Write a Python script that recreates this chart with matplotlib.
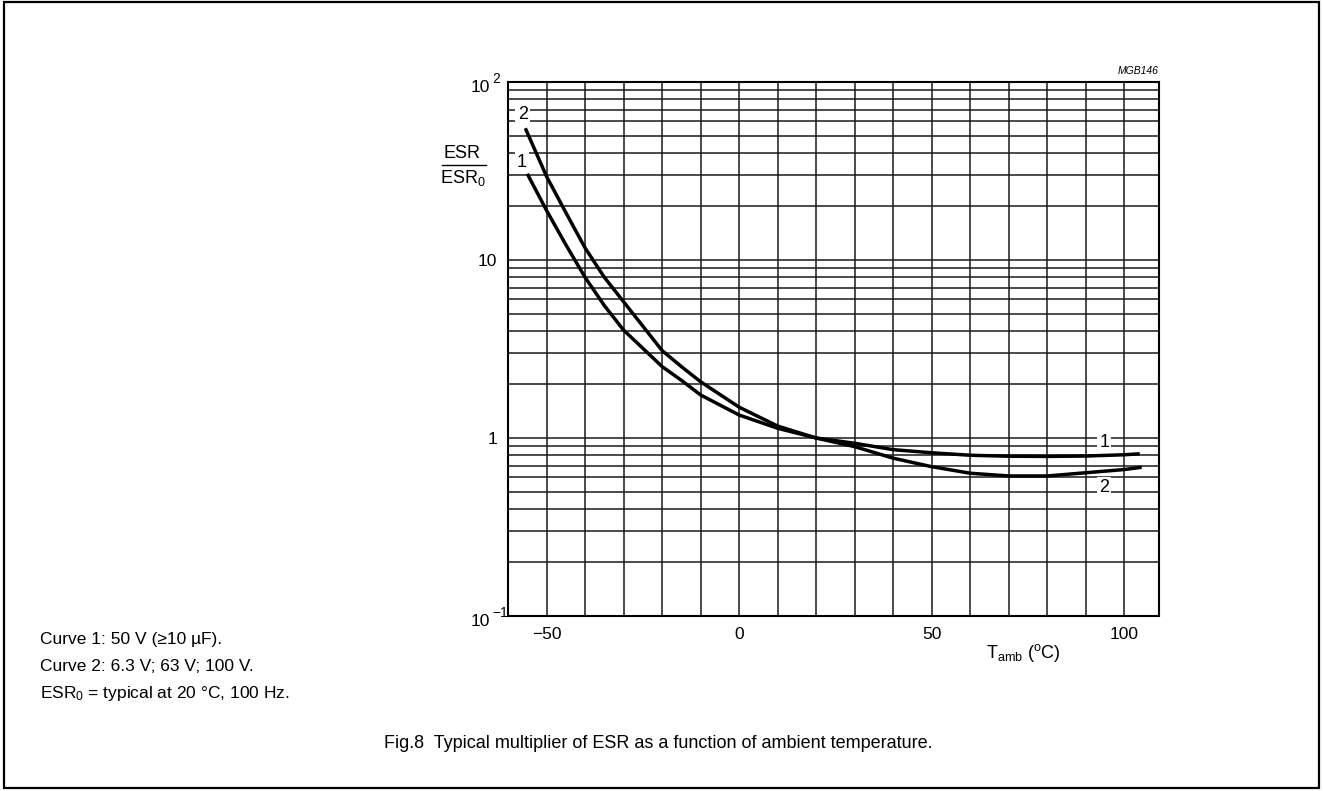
import matplotlib
matplotlib.use("Agg")
import matplotlib.pyplot as plt
from matplotlib.patches import Rectangle
from matplotlib.lines import Line2D

plt.rcParams["font.family"] = ["Liberation Sans", "DejaVu Sans"]
plt.rcParams["mathtext.fontset"] = "custom"
plt.rcParams["mathtext.rm"] = "Liberation Sans"
plt.rcParams["mathtext.it"] = "Liberation Sans:italic"
plt.rcParams["mathtext.bf"] = "Liberation Sans:bold"

# --- data ---
temp_1 = [-55, -50, -45, -40, -35, -30, -20, -15, -10, 0, 10, 20, 30, 40, 50, 60, 70, 80, 90, 100, 104]
esr_1 = [30.5, 19.0, 12.2, 8.0, 5.55, 4.04, 2.52, 2.11, 1.745, 1.346, 1.134, 1.0, 0.934, 0.86, 0.826,
         0.80, 0.79, 0.788, 0.792, 0.805, 0.815]

temp_2 = [-55.5, -50, -45, -40, -35, -30, -20, -15, -10, 0, 10, 20, 30, 40, 50, 60, 70, 80, 90, 100, 104.5]
esr_2 = [55.0, 29.5, 18.5, 11.7, 8.0, 5.83, 3.1, 2.52, 2.07, 1.49, 1.167, 1.0, 0.894, 0.77, 0.69,
         0.634, 0.612, 0.612, 0.638, 0.665, 0.685]

x_ticks = [-50, 0, 50, 100]
x_tick_labels = ["\u221250", "0", "50", "100"]
y_ticks = [0.1, 1, 10, 100]
y_tick_labels = ["", "1", "10", ""]
y_power_ticks = [100, 0.1]
y_power_exps = ["2", "\u22121"]

notes = ["Curve 1: 50 V (\u226510 \u00b5F).",
         "Curve 2: 6.3 V; 63 V; 100 V.",
         r"ESR$_0$ = typical at 20 $\degree$C, 100 Hz."]
title = "Fig.8  Typical multiplier of ESR as a function of ambient temperature."

W, H = 1323, 791
fig = plt.figure(figsize=(W / 100, H / 100), dpi=100)


def fx(px):
    return px / W


def fy(py):
    return 1 - py / H


ax = fig.add_axes([fx(508), fy(616), fx(1159) - fx(508), fy(82) - fy(616)])
ax.set_yscale("log")
ax.set_xlim(-60, 109)
ax.set_ylim(0.1, 100)

# grid
for xv in range(-50, 101, 10):
    ax.axvline(xv, color="#1a1a1a", lw=1.1, zorder=1)
for dec in [0.1, 1, 10]:
    for m in range(1, 10):
        ax.axhline(dec * m, color="#1a1a1a", lw=1.1, zorder=1)

ax.plot(temp_1, esr_1, color="black", lw=2.5, solid_capstyle="butt", solid_joinstyle="round", zorder=3)
ax.plot(temp_2, esr_2, color="black", lw=2.5, solid_capstyle="butt", solid_joinstyle="round", zorder=3)

lab_box = dict(facecolor="white", edgecolor="none", pad=1.5)
ax.text(-56.2, 66, "2", ha="center", va="center", fontsize=13, bbox=lab_box, zorder=4)
ax.text(-56.4, 35.5, "1", ha="center", va="center", fontsize=13, bbox=lab_box, zorder=4)
ax.text(94.8, 0.94, "1", ha="center", va="center", fontsize=13, bbox=lab_box, zorder=4)
ax.text(94.8, 0.526, "2", ha="center", va="center", fontsize=13, bbox=lab_box, zorder=4)

ax.set_xticks(x_ticks)
ax.set_xticklabels(x_tick_labels)
ax.set_yticks(y_ticks)
ax.set_yticklabels(y_tick_labels)
ax.minorticks_off()
ax.tick_params(length=0, labelsize=12.5, pad=8)
for sp in ax.spines.values():
    sp.set_linewidth(1.5)

# 10^n labels with a large raised exponent
for yv, ex in zip(y_power_ticks, y_power_exps):
    ax.annotate("10", xy=(0, yv), xycoords=("axes fraction", "data"), xytext=(-13, -4),
                textcoords="offset points", ha="right", va="center", fontsize=12.5)
    ax.annotate(ex, xy=(0, yv), xycoords=("axes fraction", "data"), xytext=(-11.5, 2.5),
                textcoords="offset points", ha="left", va="center", fontsize=10)

# y label as a stacked fraction
fig.text(fx(462), fy(154), "ESR", ha="center", va="center", fontsize=13)
fig.add_artist(Line2D([fx(442), fx(486)], [fy(164.5), fy(164.5)], color="black", lw=1.0))
fig.text(fx(463), fy(178), r"ESR$_{0}$", ha="center", va="center", fontsize=13)

# x label
fig.text(fx(986), fy(658), r"T$_{\mathrm{amb}}$ ($^{\mathrm{o}}$C)", ha="left", va="baseline", fontsize=13)

# code top right
fig.text(fx(1159), fy(74), "MGB146", ha="right", va="baseline", fontsize=7.5, style="italic")

# notes
for i, line in enumerate(notes):
    fig.text(fx(40), fy(644 + i * 27), line, ha="left", va="baseline", fontsize=12.5)

fig.text(fx(658), fy(748), title, ha="center", va="baseline", fontsize=13)

# outer frame
fig.add_artist(Rectangle((fx(4), fy(788)), fx(1319) - fx(4), fy(2) - fy(788),
                         transform=fig.transFigure, fill=False, edgecolor="black", lw=1.6))

fig.savefig("out.png", dpi=100)
